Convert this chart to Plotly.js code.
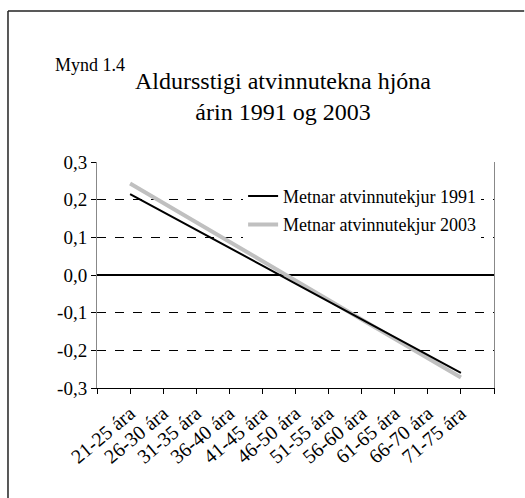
<!DOCTYPE html>
<html>
<head>
<meta charset="utf-8">
<script src="https://cdn.plot.ly/plotly-3.0.1.min.js"></script>
<style>
  html, body { margin: 0; background: #fff; overflow: hidden; }
  #chart { width: 525px; height: 498px; }
</style>
</head>
<body>
<div id="chart"></div>
<script>
// age groups on the x axis
var ageGroups = ["21-25 ára", "26-30 ára", "31-35 ára", "36-40 ára", "41-45 ára",
  "46-50 ára", "51-55 ára", "56-60 ára", "61-65 ára", "66-70 ára", "71-75 ára"];

// values
var income1991 = [0.215, 0.168, 0.120, 0.073, 0.025, -0.023, -0.070, -0.118, -0.165, -0.213, -0.260];
var income2003 = [0.243, 0.192, 0.140, 0.089, 0.037, -0.015, -0.066, -0.118, -0.169, -0.221, -0.272];

var yTickVals = [-0.3, -0.2, -0.1, 0, 0.1, 0.2, 0.3];
var yTickText = ["-0,3", "-0,2", "-0,1", "0,0", "0,1", "0,2", "0,3"];

var xIdx = ageGroups.map((g, i) => i);
// one extra tick on each side, like the original
var xTickVals = [-1].concat(xIdx, [ageGroups.length]);
var xTickText = [""].concat(ageGroups, [""]);

var serif = "Liberation Serif";

var trace2003 = {
  x: xIdx,
  y: income2003,
  name: "Metnar atvinnutekjur 2003",
  type: "scatter",
  mode: "lines",
  line: {color: "#c0c0c0", width: 4},
  legendrank: 2,
  legendgroup: "b"
};

var trace1991 = {
  x: xIdx,
  y: income1991,
  name: "Metnar atvinnutekjur 1991",
  type: "scatter",
  mode: "lines",
  line: {color: "#000", width: 2},
  legendrank: 1,
  legendgroup: "a"
};

var layout = {
  width: 525,
  height: 498,
  margin: {l: 97, r: 31, t: 162, b: 110},
  paper_bgcolor: "#fff",
  plot_bgcolor: "#fff",
  font: {family: serif, color: "#000", size: 19},
  showlegend: true,
  title: {
    text: "Aldursstigi atvinnutekna hjóna<br>árin 1991 og 2003",
    font: {family: serif, size: 24, color: "#000"},
    xref: "paper", x: 0.4685, xanchor: "center",
    yref: "container", y: 0.822, yanchor: "top"
  },
  xaxis: {
    range: [-1, ageGroups.length],
    tickvals: xTickVals,
    ticktext: xTickText,
    tickangle: -40,
    ticks: "outside",
    ticklen: 5,
    tickcolor: "#000",
    showline: true,
    linecolor: "#000",
    linewidth: 1,
    showgrid: false,
    zeroline: false,
    tickfont: {family: serif, size: 20, color: "#000"}
  },
  yaxis: {
    range: [-0.3, 0.3],
    tickvals: yTickVals,
    ticktext: yTickText,
    ticks: "outside",
    ticklen: 5,
    tickcolor: "#000",
    showline: true,
    mirror: true,
    linecolor: "#888",
    linewidth: 1,
    showgrid: true,
    gridcolor: "#000",
    gridwidth: 1,
    griddash: "dash",
    zeroline: true,
    zerolinecolor: "#000",
    zerolinewidth: 1.5,
    tickfont: {family: serif, size: 19, color: "#000"}
  },
  legend: {
    x: 0.368, xanchor: "left",
    y: 0.93, yanchor: "top",
    bgcolor: "#fff",
    borderwidth: 0,
    traceorder: "grouped",
    tracegroupgap: 2,
    font: {family: serif, size: 18, color: "#000"}
  },
  annotations: [{
    text: "Mynd 1.4",
    xref: "paper", yref: "paper",
    x: -0.111, y: 1.43,
    xanchor: "left", yanchor: "middle",
    showarrow: false,
    font: {family: serif, size: 18, color: "#000"}
  }],
  // frame round the whole figure: only its left and top edges fall inside the picture
  shapes: [
    {type: "line", xref: "paper", yref: "paper", x0: -0.2242, x1: -0.2242, y0: -1, y1: 1.668,
      line: {color: "#222", width: 1.5}, layer: "below"},
    {type: "line", xref: "paper", yref: "paper", x0: -0.2242, x1: 1.076, y0: 1.668, y1: 1.668,
      line: {color: "#222", width: 1.5}, layer: "below"}
  ]
};

Plotly.newPlot("chart", [trace2003, trace1991], layout, {displayModeBar: false});
</script>
</body>
</html>
